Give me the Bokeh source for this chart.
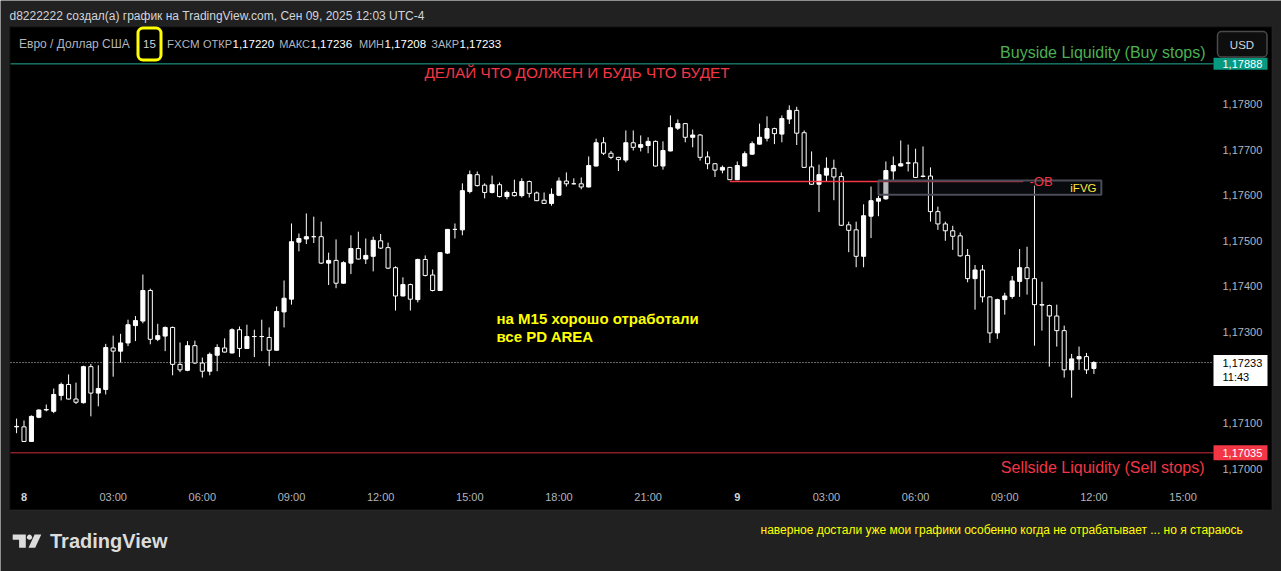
import numpy as np
from bokeh.plotting import figure
from bokeh.models import (Range1d, BoxAnnotation, Label, PolyAnnotation, ColumnDataSource)
from bokeh.core.properties import value
from bokeh.embed import file_html
from bokeh.resources import INLINE

# ---------------- data (EUR/USD, 15-minute bars; bar 0 = 8 Sep 00:00) ----------------
first_bar = -1
opens = [1.17092, 1.17092, 1.17060, 1.17113, 1.17129, 1.17126, 1.17161, 1.17185, 1.17153, 1.17145, 1.17224,
         1.17166, 1.17174, 1.17265, 1.17258, 1.17276, 1.17314, 1.17324, 1.17391, 1.17284, 1.17291,
         1.17310, 1.17229, 1.17216, 1.17270, 1.17232, 1.17214, 1.17249, 1.17265, 1.17254, 1.17305,
         1.17264, 1.17290, 1.17290, 1.17288, 1.17260, 1.17344, 1.17372, 1.17497, 1.17504, 1.17509,
         1.17509, 1.17451, 1.17457, 1.17407, 1.17451, 1.17483, 1.17460, 1.17466, 1.17500, 1.17485,
         1.17441, 1.17379, 1.17404, 1.17371, 1.17459, 1.17425, 1.17391, 1.17473, 1.17525, 1.17524,
         1.17608, 1.17645, 1.17622, 1.17606, 1.17623, 1.17597, 1.17606, 1.17599, 1.17630, 1.17605,
         1.17589, 1.17582, 1.17600, 1.17631, 1.17625, 1.17625, 1.17618, 1.17664, 1.17715, 1.17692,
         1.17683, 1.17677, 1.17715, 1.17705, 1.17709, 1.17718, 1.17664, 1.17697, 1.17747, 1.17757,
         1.17727, 1.17732, 1.17684, 1.17669, 1.17655, 1.17661, 1.17634, 1.17664, 1.17690, 1.17712,
         1.17725, 1.17746, 1.17734, 1.17767, 1.17786, 1.17737, 1.17662, 1.17624, 1.17644, 1.17659,
         1.17641, 1.17535, 1.17524, 1.17466, 1.17554, 1.17587, 1.17592, 1.17653, 1.17664, 1.17670,
         1.17671, 1.17642, 1.17642, 1.17564, 1.17537, 1.17522, 1.17511, 1.17468, 1.17417, 1.17436,
         1.17377, 1.17298, 1.17371, 1.17378, 1.17411, 1.17441, 1.17417, 1.17360, 1.17358, 1.17335,
         1.17303, 1.17217, 1.17241, 1.17246, 1.17220]
highs = [1.17110, 1.17106, 1.17117, 1.17130, 1.17141, 1.17176, 1.17189, 1.17207, 1.17189, 1.17226, 1.17230,
         1.17227, 1.17274, 1.17292, 1.17296, 1.17327, 1.17335, 1.17426, 1.17395, 1.17318, 1.17312,
         1.17312, 1.17277, 1.17280, 1.17281, 1.17244, 1.17255, 1.17273, 1.17286, 1.17308, 1.17312,
         1.17316, 1.17305, 1.17327, 1.17310, 1.17356, 1.17413, 1.17538, 1.17516, 1.17560, 1.17553,
         1.17542, 1.17474, 1.17503, 1.17455, 1.17512, 1.17520, 1.17505, 1.17509, 1.17515, 1.17496,
         1.17444, 1.17420, 1.17406, 1.17461, 1.17468, 1.17437, 1.17475, 1.17526, 1.17538, 1.17626,
         1.17654, 1.17652, 1.17626, 1.17643, 1.17628, 1.17610, 1.17634, 1.17637, 1.17632, 1.17608,
         1.17606, 1.17615, 1.17639, 1.17650, 1.17637, 1.17639, 1.17685, 1.17724, 1.17727, 1.17697,
         1.17684, 1.17742, 1.17742, 1.17731, 1.17727, 1.17720, 1.17718, 1.17775, 1.17766, 1.17758,
         1.17744, 1.17734, 1.17696, 1.17670, 1.17665, 1.17662, 1.17674, 1.17696, 1.17718, 1.17757,
         1.17773, 1.17748, 1.17775, 1.17797, 1.17794, 1.17742, 1.17696, 1.17667, 1.17683, 1.17678,
         1.17650, 1.17542, 1.17542, 1.17580, 1.17619, 1.17599, 1.17674, 1.17685, 1.17720, 1.17711,
         1.17702, 1.17707, 1.17661, 1.17575, 1.17542, 1.17533, 1.17518, 1.17482, 1.17447, 1.17447,
         1.17378, 1.17373, 1.17386, 1.17423, 1.17482, 1.17487, 1.17621, 1.17410, 1.17360, 1.17360,
         1.17314, 1.17252, 1.17268, 1.17254, 1.17236]
lows = [1.17078, 1.17059, 1.17059, 1.17111, 1.17126, 1.17122, 1.17150, 1.17152, 1.17142, 1.17143, 1.17115,
        1.17137, 1.17163, 1.17202, 1.17233, 1.17269, 1.17280, 1.17319, 1.17273, 1.17280, 1.17258,
        1.17205, 1.17212, 1.17214, 1.17230, 1.17200, 1.17205, 1.17214, 1.17255, 1.17253, 1.17245,
        1.17263, 1.17245, 1.17258, 1.17225, 1.17259, 1.17310, 1.17360, 1.17477, 1.17493, 1.17495,
        1.17449, 1.17403, 1.17396, 1.17406, 1.17427, 1.17459, 1.17449, 1.17433, 1.17482, 1.17438,
        1.17347, 1.17378, 1.17347, 1.17365, 1.17422, 1.17389, 1.17390, 1.17471, 1.17505, 1.17512,
        1.17604, 1.17619, 1.17593, 1.17604, 1.17595, 1.17591, 1.17597, 1.17595, 1.17595, 1.17587,
        1.17581, 1.17577, 1.17598, 1.17619, 1.17624, 1.17613, 1.17617, 1.17663, 1.17688, 1.17679,
        1.17653, 1.17672, 1.17698, 1.17696, 1.17692, 1.17663, 1.17656, 1.17696, 1.17743, 1.17716,
        1.17705, 1.17676, 1.17657, 1.17640, 1.17648, 1.17633, 1.17633, 1.17663, 1.17689, 1.17711,
        1.17718, 1.17712, 1.17716, 1.17756, 1.17710, 1.17660, 1.17623, 1.17563, 1.17630, 1.17589,
        1.17533, 1.17475, 1.17442, 1.17442, 1.17506, 1.17554, 1.17590, 1.17632, 1.17663, 1.17652,
        1.17638, 1.17639, 1.17542, 1.17524, 1.17500, 1.17480, 1.17465, 1.17409, 1.17349, 1.17365,
        1.17276, 1.17285, 1.17338, 1.17373, 1.17377, 1.17382, 1.17270, 1.17303, 1.17224, 1.17268,
        1.17200, 1.17156, 1.17217, 1.17208, 1.17208]
closes = [1.17093, 1.17060, 1.17115, 1.17129, 1.17130, 1.17163, 1.17185, 1.17153, 1.17146, 1.17224, 1.17166,
          1.17176, 1.17266, 1.17258, 1.17276, 1.17316, 1.17325, 1.17391, 1.17284, 1.17292, 1.17310,
          1.17229, 1.17217, 1.17270, 1.17232, 1.17214, 1.17251, 1.17266, 1.17256, 1.17305, 1.17264,
          1.17290, 1.17290, 1.17290, 1.17260, 1.17345, 1.17374, 1.17498, 1.17505, 1.17509, 1.17509,
          1.17451, 1.17457, 1.17407, 1.17452, 1.17483, 1.17460, 1.17468, 1.17501, 1.17484, 1.17440,
          1.17379, 1.17404, 1.17372, 1.17459, 1.17424, 1.17391, 1.17474, 1.17525, 1.17525, 1.17610,
          1.17645, 1.17621, 1.17606, 1.17623, 1.17597, 1.17606, 1.17599, 1.17630, 1.17604, 1.17588,
          1.17582, 1.17602, 1.17631, 1.17625, 1.17625, 1.17618, 1.17665, 1.17715, 1.17692, 1.17683,
          1.17678, 1.17715, 1.17705, 1.17711, 1.17718, 1.17664, 1.17698, 1.17748, 1.17757, 1.17727,
          1.17732, 1.17683, 1.17669, 1.17655, 1.17661, 1.17634, 1.17665, 1.17691, 1.17713, 1.17727,
          1.17746, 1.17735, 1.17768, 1.17786, 1.17736, 1.17661, 1.17624, 1.17645, 1.17659, 1.17640,
          1.17534, 1.17523, 1.17466, 1.17555, 1.17588, 1.17593, 1.17654, 1.17665, 1.17669, 1.17671,
          1.17639, 1.17641, 1.17564, 1.17537, 1.17522, 1.17510, 1.17467, 1.17417, 1.17436, 1.17377,
          1.17298, 1.17371, 1.17379, 1.17412, 1.17441, 1.17417, 1.17360, 1.17359, 1.17335, 1.17303,
          1.17217, 1.17241, 1.17246, 1.17217, 1.17233]

time_ticks = [0, 12, 24, 36, 48, 60, 72, 84, 96, 108, 120, 132, 144, 156]
time_labels = ["8", "03:00", "06:00", "09:00", "12:00", "15:00", "18:00", "21:00",
               "9", "03:00", "06:00", "09:00", "12:00", "15:00"]
price_ticks = [1.170, 1.171, 1.173, 1.174, 1.175, 1.176, 1.177, 1.178]

buyside_level = 1.17888
sellside_level = 1.17035
ob_level = 1.17630
ob_bars = [95, 134.5]
fvg_top = 1.17632
fvg_bottom = 1.17601
fvg_bars = [115, 145]
countdown = "11:43"

# ---------------- layout helpers (page pixels -> data) ----------------
X0, DX = 23.5, 7.43
Y0, KY = 468.3, 45600.0
def bx(px): return (px - X0) / DX
def py(px): return 1.17 + (Y0 - px) / KY
def ypx(price): return Y0 - (price - 1.17) * KY
def fmt(v): return f"{v:.5f}".replace(".", ",")

FONT = "Liberation Sans"
PLOT_L, PLOT_R = 10, 1211          # price pane horizontal extent (page px)

p = figure(width=1281, height=571, output_backend="svg", toolbar_location=None,
           x_range=Range1d(bx(0), bx(1281)), y_range=Range1d(py(571), py(0)),
           min_border=0, x_axis_location=None, y_axis_location=None,
           background_fill_color="#212121", border_fill_color="#212121",
           outline_line_color=None)
p.grid.visible = False

# chart panel (black) with thin border
p.add_layout(BoxAnnotation(left=bx(9), right=bx(1271.5), top=py(26), bottom=py(509.5),
                           fill_color="#000000", fill_alpha=1, line_color="#2c2c2c",
                           line_width=2, level="underlay"))

# ---------------- price / time scale labels ----------------
pt = np.array(price_ticks)
p.text(x=[bx(1222)] * len(pt), y=pt, text=[fmt(v) for v in pt],
       text_color="#b2b5be", text_font=value(FONT), text_font_size="11px",
       text_align="left", text_baseline="middle")
hour_t = [t for t, s in zip(time_ticks, time_labels) if ":" in s]
hour_s = [s for s in time_labels if ":" in s]
day_t = [t for t, s in zip(time_ticks, time_labels) if ":" not in s]
day_s = [s for s in time_labels if ":" not in s]
p.text(x=hour_t, y=[py(496.7)] * len(hour_t), text=hour_s,
       text_color="#b2b5be", text_font=value(FONT), text_font_size="11px",
       text_align="center", text_baseline="middle")
p.text(x=day_t, y=[py(496.7)] * len(day_t), text=day_s,
       text_color="#d1d4dc", text_font=value(FONT), text_font_size="11px",
       text_font_style="bold", text_align="center", text_baseline="middle")

# ---------------- candles ----------------
o = np.array(opens); h = np.array(highs); l = np.array(lows); c = np.array(closes)
x = np.arange(first_bar, first_bar + len(o))
up = c >= o
p.segment(x0=[bx(PLOT_L)], y0=[c[-1]], x1=[bx(PLOT_R)], y1=[c[-1]],
          line_color="#d1d4dc", line_dash="1 2", line_width=1)
p.segment(x0=x, y0=h, x1=x, y1=l, line_color="#ffffff", line_width=1)
src_up = ColumnDataSource(dict(x=x[up], top=c[up], bottom=o[up]))
src_dn = ColumnDataSource(dict(x=x[~up], top=o[~up], bottom=c[~up]))
p.vbar(x="x", width=0.55, top="top", bottom="bottom", source=src_up,
       fill_color="#ffffff", line_color="#ffffff", line_width=1)
p.vbar(x="x", width=0.55, top="top", bottom="bottom", source=src_dn,
       fill_color="#000000", line_color="#ffffff", line_width=1)

# OB line and iFVG zone
p.segment(x0=[ob_bars[0]], y0=[ob_level], x1=[ob_bars[1]], y1=[ob_level],
          line_color="#f23645", line_width=1.5)
p.quad(left=[fvg_bars[0]], right=[fvg_bars[1]], top=[fvg_top], bottom=[fvg_bottom],
       fill_color="#1e222d", fill_alpha=0.3, line_color="#4a4d57", line_width=2)

# liquidity lines
p.segment(x0=[bx(PLOT_L)], y0=[buyside_level], x1=[bx(PLOT_R + 2)], y1=[buyside_level],
          line_color="#22ab94", line_width=1)
p.segment(x0=[bx(PLOT_L)], y0=[sellside_level], x1=[bx(PLOT_R + 2)], y1=[sellside_level],
          line_color="#f23645", line_alpha=0.85, line_width=1)

# ---------------- annotations ----------------
def box(lp, rp, tp, bp, fill=None, line=None, lw=1, radius=0, fill_alpha=1.0):
    p.add_layout(BoxAnnotation(left=bx(lp), right=bx(rp), top=py(tp), bottom=py(bp),
                               fill_color=fill, fill_alpha=(fill_alpha if fill else 0),
                               line_color=line, line_alpha=(1 if line else 0),
                               line_width=lw, border_radius=radius))

def label(xp, yp, text, color, size, align="left", bold=False, data_y=None):
    p.add_layout(Label(x=bx(xp), y=(data_y if data_y is not None else py(yp)), text=text,
                       text_color=color, text_font=FONT, text_font_size=f"{size}px",
                       text_align=align, text_baseline="middle",
                       text_font_style=("bold" if bold else "normal")))

# badges on the price scale
yb = ypx(buyside_level)
box(1213, 1267, yb - 6, yb + 6, fill="#089981")
label(1222, 0, fmt(buyside_level), "#ffffff", 11, data_y=buyside_level)
ys = ypx(sellside_level)
box(1213, 1267, ys - 7.5, ys + 7.5, fill="#f23645")
label(1222, 0, fmt(sellside_level), "#ffffff", 11, data_y=sellside_level)
yl = ypx(c[-1])
box(1213, 1267, yl - 7.5, yl + 23.5, fill="#ffffff")
label(1222, 0, fmt(c[-1]), "#000000", 11, data_y=c[-1])
label(1222, yl + 14, countdown, "#000000", 11)

# USD box
box(1217, 1266.5, 31, 56.5, fill="#0e0e0e", line="#4a4a4a", lw=1.5, radius=4)
label(1241.5, 44, "USD", "#d1d4dc", 11.5, align="center")

# title and legend
label(9, 15, "d8222222 создал(а) график на TradingView.com, Сен 09, 2025 12:03 UTC-4", "#d1d4dc", 12)
label(18.5, 43, "Евро / Доллар США", "#b2b5be", 12)
box(137.5, 160.5, 27.5, 59.5, line="#ffff00", lw=3, radius=5)
label(149, 43, "15", "#d1d4dc", 11.5, align="center")
label(166.5, 43, "FXCM", "#b2b5be", 11.5)
legend_parts = [("ОТКР", o[-1], 232), ("МАКС", h[-1], 310),
                ("МИН", l[-1], 384), ("ЗАКР", c[-1], 459)]
for name, val, xv in legend_parts:
    label(xv - 0.5, 43, name, "#b2b5be", 11, align="right")
    label(xv, 43, fmt(val), "#ffffff", 11.5)

# chart texts
label(424, 72, "ДЕЛАЙ ЧТО ДОЛЖЕН И БУДЬ ЧТО БУДЕТ", "#f23645", 15.3)
label(1205, 51.5, "Buyside Liquidity (Buy stops)", "#4caf50", 16, align="right")
label(1204, 467, "Sellside Liquidity (Sell stops)", "#f23645", 16, align="right")
label(496, 318, "на M15 хорошо отработали", "#ffff00", 15, bold=True)
label(496, 336, "все PD AREA", "#ffff00", 15, bold=True)
label(1029, 0, "-OB", "#f23645", 13, data_y=ob_level)
label(1096, 187.3, "iFVG", "#ffeb3b", 11.5, align="right")

# footer
label(760, 529, "наверное достали уже мои графики особенно когда не отрабатывает ... но я стараюсь",
      "#ffff00", 12)
logo_col = "#dcdcdc"
p.add_layout(PolyAnnotation(xs=[bx(v) for v in [12.2, 25.3, 25.3, 18.6, 18.6, 12.2]],
                            ys=[py(v) for v in [534, 534, 547.3, 547.3, 539.3, 539.3]],
                            fill_color=logo_col, fill_alpha=1, line_color=None))
ang = np.linspace(0, 2 * np.pi, 13)[:-1]
p.add_layout(PolyAnnotation(xs=[bx(29.0 + 2.6 * np.cos(a)) for a in ang],
                            ys=[py(536.7 + 2.6 * np.sin(a)) for a in ang],
                            fill_color=logo_col, fill_alpha=1, line_color=None))
p.add_layout(PolyAnnotation(xs=[bx(v) for v in [28.0, 34.7, 40.8, 34.1]],
                            ys=[py(v) for v in [547.3, 547.3, 534, 534]],
                            fill_color=logo_col, fill_alpha=1, line_color=None))
label(49.5, 540, "TradingView", logo_col, 20, bold=True)

open("out.html", "w").write(file_html(p, INLINE))
